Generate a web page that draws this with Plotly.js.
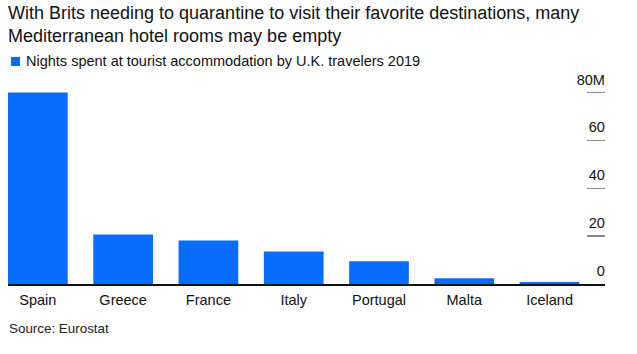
<!DOCTYPE html>
<html>
<head>
<meta charset="utf-8">
<script src="https://cdn.plot.ly/plotly-3.0.1.min.js"></script>
<style>html,body{margin:0;padding:0;background:#fff;}#chart{width:637px;height:354px;}</style>
</head>
<body>
<div id="chart"></div>
<script>
const countries = ["Spain", "Greece", "France", "Italy", "Portugal", "Malta", "Iceland"];
const nightsMillions = [80.0, 20.7, 18.2, 13.6, 9.5, 2.4, 0.8];
const seriesName = "Nights spent at tourist accommodation by U.K. travelers 2019";
const yTickValues = [0, 20, 40, 60, 80];
const yTickLabels = ["0", "20", "40", "60", "80M"];
const titleText = "With Brits needing to quarantine to visit their favorite destinations, many<br>Mediterranean hotel rooms may be empty";
const sourceText = "Source: Eurostat";

const FONT = "Liberation Sans, Arial, sans-serif";
const BLUE = "#0a6cff";
const trace = {
  type: "bar",
  x: countries,
  y: nightsMillions,
  name: seriesName,
  marker: {color: BLUE, line: {width: 0}},
  width: 0.7,
  showlegend: false,
  cliponaxis: false,
  hoverinfo: "x+y"
};

// plot area: baseline at y=284px, 2.4 px per million, top of range extended for the top tick label
const layout = {
  width: 637, height: 354,
  margin: {l: 8, r: 32, t: 70, b: 70, autoexpand: false},
  paper_bgcolor: "#fff", plot_bgcolor: "#fff",
  font: {family: FONT, color: "#111"},
  title: {
    text: titleText,
    x: 0, xref: "container", xanchor: "left",
    y: 0.947, yref: "container", yanchor: "top",
    pad: {l: 8, t: 0},
    font: {family: FONT, size: 18, color: "#111"}
  },
  showlegend: false,
  xaxis: {
    type: "category",
    range: [-0.35, 6.65],
    showline: true, linecolor: "#111", linewidth: 1.5,
    ticks: "", showgrid: false, zeroline: false,
    ticklabelstandoff: 2,
    tickfont: {family: FONT, size: 14.5, color: "#111"},
    fixedrange: true
  },
  yaxis: {
    side: "right",
    range: [0, 89.4],
    tickmode: "array",
    tickvals: yTickValues,
    ticktext: yTickLabels,
    ticks: "inside", ticklen: 18, tickwidth: 1.5, tickcolor: "#888",
    ticklabelposition: "inside",
    ticklabelshift: -13,
    ticklabelstandoff: -18,
    showgrid: false, zeroline: false, showline: false,
    tickfont: {family: FONT, size: 14.5, color: "#111"},
    fixedrange: true
  },
  shapes: [{
    type: "rect", xref: "paper", yref: "paper",
    xsizemode: "pixel", ysizemode: "pixel",
    xanchor: 0, yanchor: 1,
    x0: 3, x1: 12, y0: 4, y1: 13,
    fillcolor: BLUE, line: {width: 0}
  }],
  annotations: [{
    text: seriesName,
    xref: "paper", x: 0, xanchor: "left", xshift: 17,
    yref: "paper", y: 1, yanchor: "middle", yshift: 9,
    showarrow: false, borderpad: 0,
    font: {family: FONT, size: 14.5, color: "#111"}
  }, {
    text: sourceText,
    xref: "paper", x: 0, xanchor: "left",
    yref: "paper", y: 0, yanchor: "middle", yshift: -44,
    showarrow: false, borderpad: 0,
    font: {family: FONT, size: 13.4, color: "#222"}
  }]
};

Plotly.newPlot("chart", [trace], layout, {displayModeBar: false, staticPlot: true});
</script>
</body>
</html>
